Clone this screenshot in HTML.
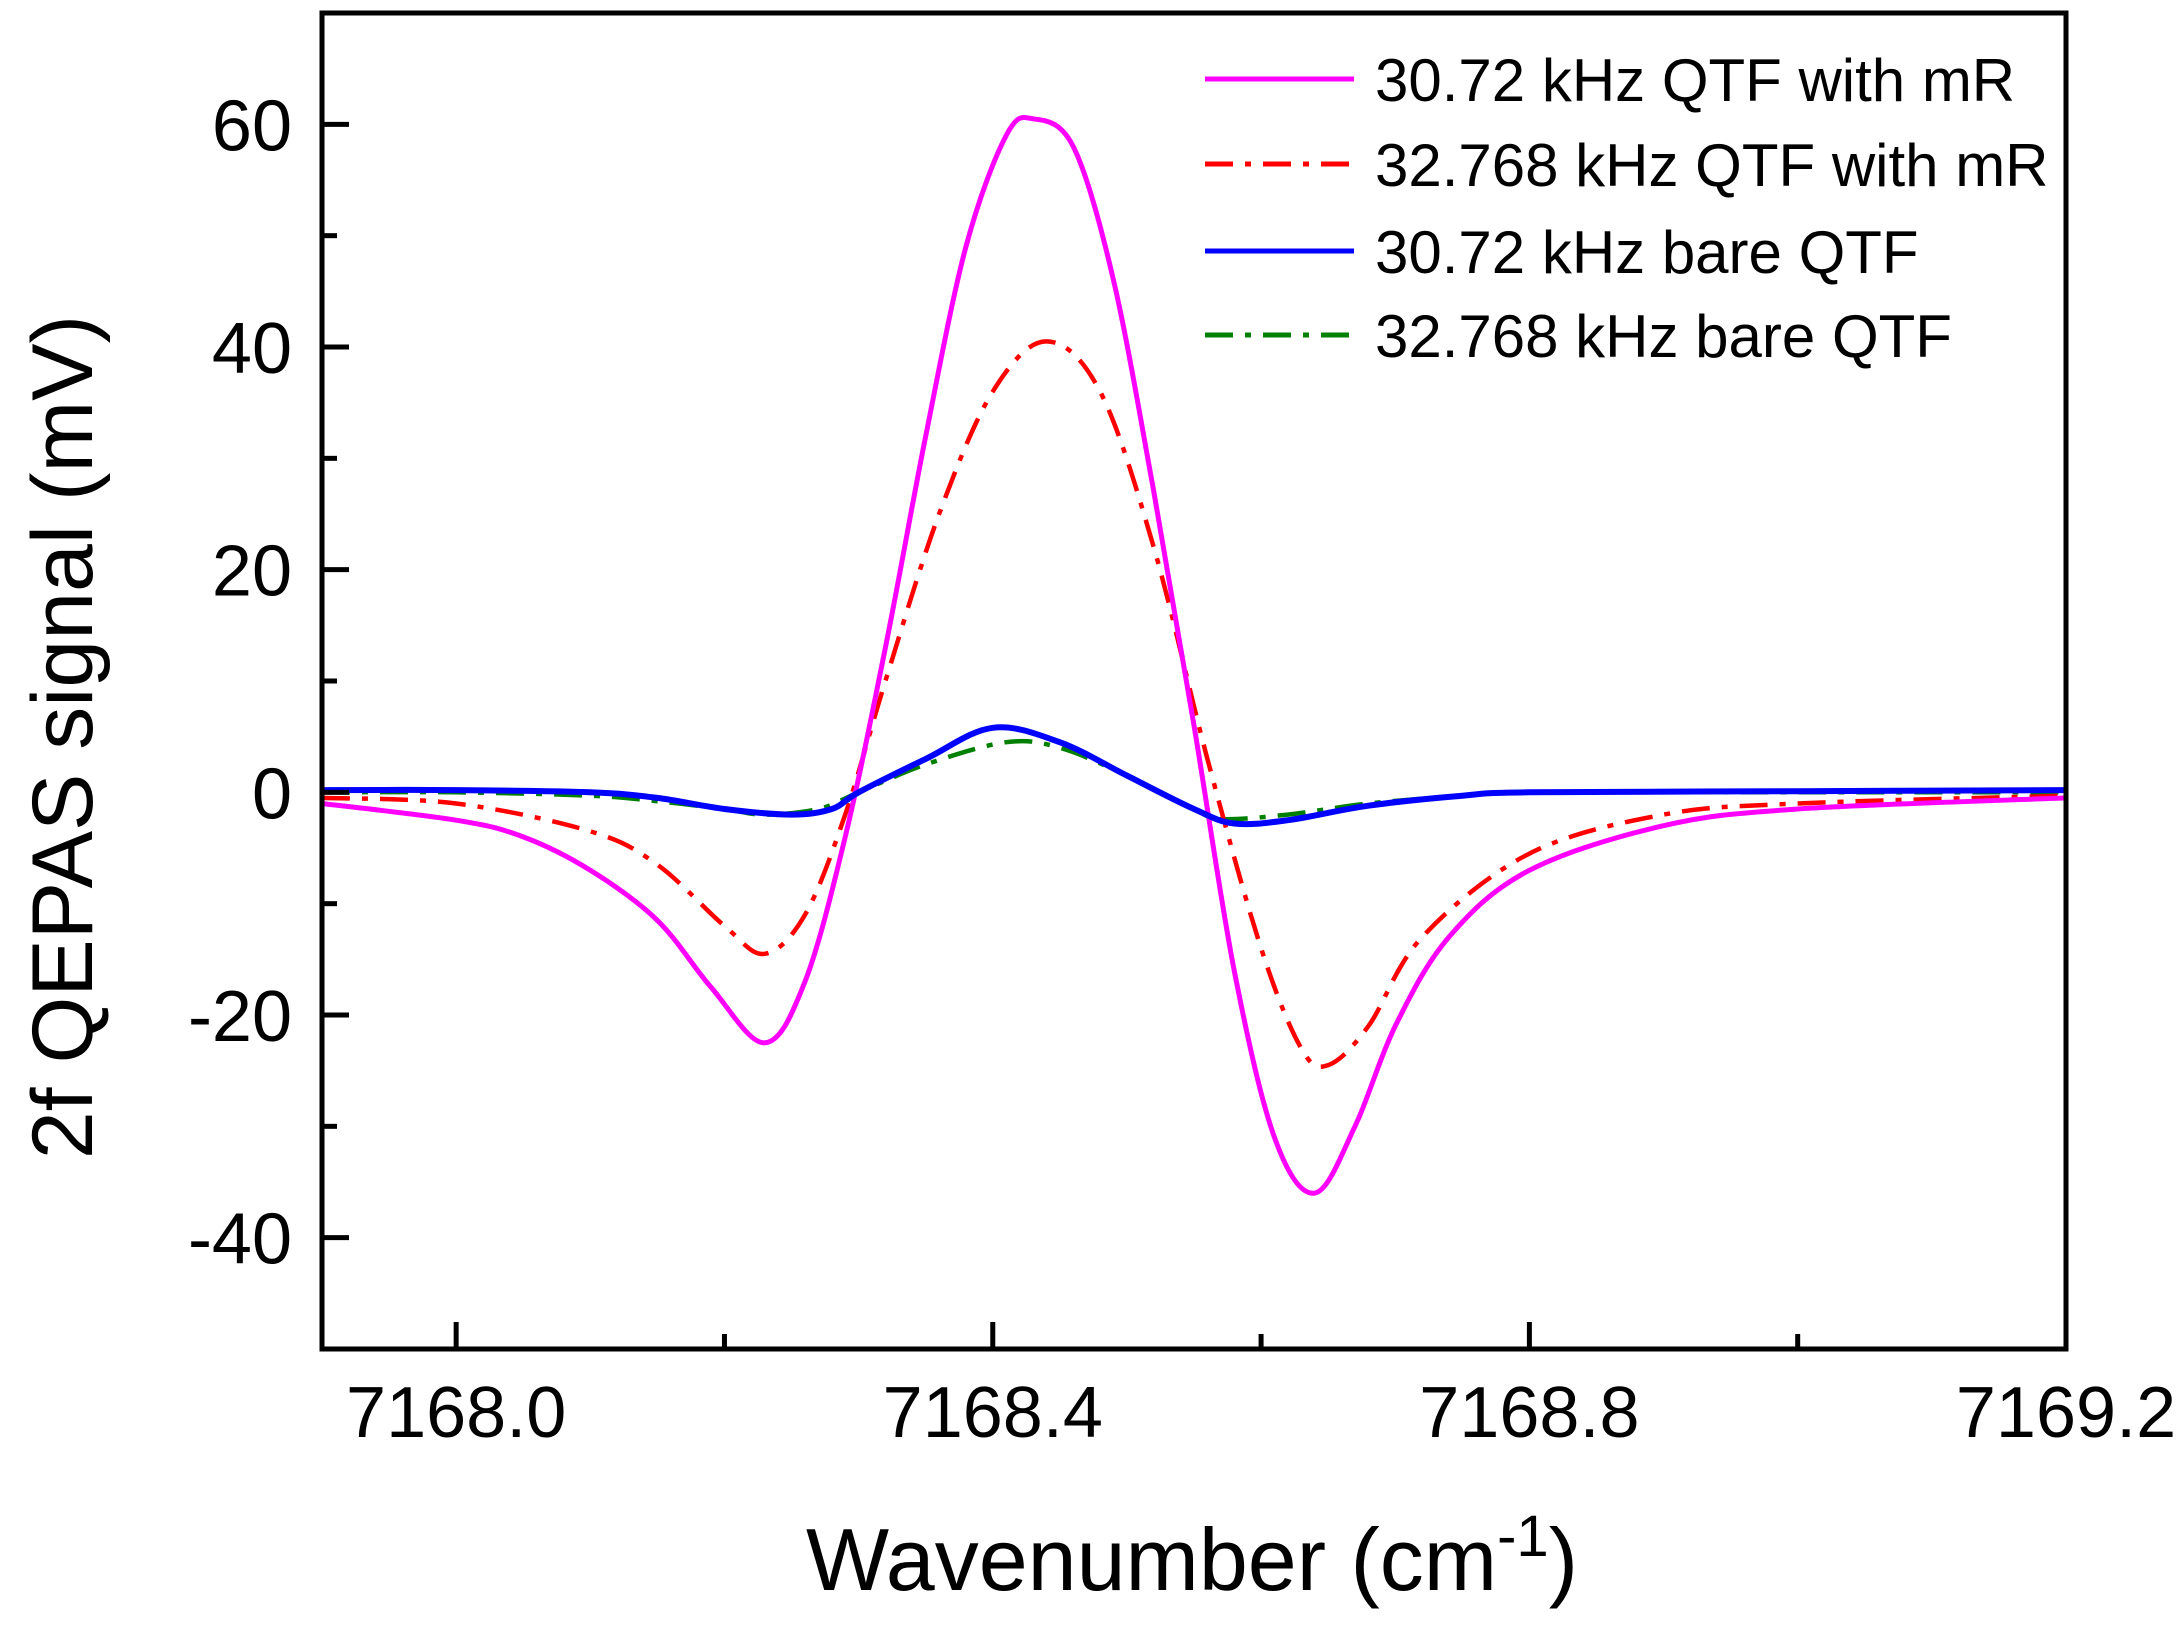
<!DOCTYPE html>
<html><head><meta charset="utf-8"><style>
html,body{margin:0;padding:0;background:#fff;}
svg{display:block;font-family:"Liberation Sans",Arial,sans-serif;}
</style></head><body>
<svg id="chart" width="2183" height="1634" viewBox="0 0 2183 1634" xmlns="http://www.w3.org/2000/svg">
<rect width="2183" height="1634" fill="#fff"/>
<defs><clipPath id="plotclip"><rect x="322" y="13" width="1744" height="1336"/></clipPath></defs>
<g id="series" clip-path="url(#plotclip)"></g>
<g id="axes"></g>
<text x="1192" y="1590" font-size="88" text-anchor="middle" fill="#000">Wavenumber (cm<tspan font-size="58" dy="-34">-1</tspan><tspan dy="34">)</tspan></text>
<text transform="translate(92,737) rotate(-90)" font-size="86" text-anchor="middle" fill="#000">2f QEPAS signal (mV)</text>
<g id="legend"></g>
</svg>
<script>
const xMin=7167.9, xMax=7169.2, yMin=-50, yMax=70;
const xTicks=[7168.0,7168.4,7168.8,7169.2];
const xTickLabels=["7168.0","7168.4","7168.8","7169.2"];
const yTicks=[-40,-20,0,20,40,60];
const yTickLabels=["-40","-20","0","20","40","60"];
const seriesNames=["30.72 kHz QTF with mR","32.768 kHz QTF with mR","30.72 kHz bare QTF","32.768 kHz bare QTF"];
const magentaX=[7167.9,7168.0,7168.05,7168.1,7168.15,7168.19,7168.23,7168.26,7168.29,7168.32,7168.35,7168.38,7168.41,7168.43,7168.46,7168.49,7168.52,7168.55,7168.58,7168.61,7168.64,7168.67,7168.7,7168.74,7168.8,7168.9,7169.0,7169.2];
const magentaY=[-1,-2.5,-4,-7,-11.5,-17.5,-22.5,-17,-4,13,32,49,59,60.5,58,46,27,6,-16,-31,-36,-30,-21,-13,-7,-3,-1.5,-0.5];
const redX=[7167.9,7168.0,7168.1,7168.15,7168.2,7168.23,7168.26,7168.29,7168.32,7168.36,7168.4,7168.44,7168.48,7168.52,7168.56,7168.6,7168.63,7168.65,7168.68,7168.72,7168.8,7168.9,7169.0,7169.2];
const redY=[-0.5,-1,-3.5,-6.5,-12,-14.5,-11,-2,10,25,36,40.5,36,22,3,-14,-23,-24.5,-21,-13,-5.5,-2,-1,-0.3];
const blueX=[7167.9,7168.0,7168.1,7168.15,7168.2,7168.25,7168.28,7168.3,7168.35,7168.4,7168.45,7168.5,7168.55,7168.58,7168.62,7168.68,7168.75,7168.8,7169.0,7169.2];
const blueY=[0.2,0.2,0,-0.5,-1.5,-2,-1.5,0,3,5.8,4.5,1.5,-1.5,-2.8,-2.5,-1.2,-0.3,0,0.1,0.2];
const greenX=[7167.9,7168.0,7168.1,7168.15,7168.2,7168.23,7168.27,7168.3,7168.35,7168.41,7168.45,7168.5,7168.55,7168.57,7168.62,7168.68,7168.75,7168.8,7169.0,7169.2];
const greenY=[0,0,-0.3,-0.8,-1.5,-2,-1.5,0,2.5,4.5,4,1.5,-1.5,-2.4,-2,-1,-0.3,0,0,0];
const L=322,R=2066,T=13,B=1349;
const xs=v=>L+(v-xMin)/(xMax-xMin)*(R-L);
const ys=v=>B-(v-yMin)/(yMax-yMin)*(B-T);
const NS="http://www.w3.org/2000/svg";
function mk(tag,attrs,parent){const e=document.createElementNS(NS,tag);for(const k in attrs)e.setAttribute(k,attrs[k]);parent.appendChild(e);return e;}
function smooth(X,Y){const p=X.map((x,i)=>[xs(x),ys(Y[i])]);let d="M"+p[0][0].toFixed(1)+","+p[0][1].toFixed(1);
for(let i=0;i<p.length-1;i++){const p0=p[i-1]||p[i],p1=p[i],p2=p[i+1],p3=p[i+2]||p2;
const c1=[p1[0]+(p2[0]-p0[0])/6,p1[1]+(p2[1]-p0[1])/6],c2=[p2[0]-(p3[0]-p1[0])/6,p2[1]-(p3[1]-p1[1])/6];
d+=" C"+c1.map(v=>v.toFixed(1))+" "+c2.map(v=>v.toFixed(1))+" "+p2[0].toFixed(1)+","+p2[1].toFixed(1);}return d;}
const sg=document.getElementById('series');
const styles=[{c:"#ff00ff",w:5,da:""},{c:"#ff0000",w:4.5,da:"28 12 6 12"},{c:"#0000ff",w:6,da:""},{c:"#008000",w:4.5,da:"28 12 6 12"}];
const data=[[greenX,greenY,3],[redX,redY,1],[magentaX,magentaY,0],[blueX,blueY,2]];
const snames=["series-32768-bare","series-32768-mr","series-3072-mr","series-3072-bare"];
data.forEach((s,i)=>{const st=styles[s[2]];
const p=mk('path',{d:smooth(s[0],s[1]),fill:"none",stroke:st.c,"stroke-width":st.w,"stroke-dasharray":st.da,"stroke-linejoin":"round"},sg);

});
const ax=document.getElementById('axes');
const fr=mk('rect',{x:L,y:T,width:R-L,height:B-T,fill:"none",stroke:"#000","stroke-width":5},ax);


xTicks.forEach((v,i)=>{const x=xs(v);
mk('line',{x1:x,y1:B,x2:x,y2:B-27,stroke:"#000","stroke-width":5},ax);
const t=mk('text',{x:x,y:1437,"font-size":72,"text-anchor":"middle",fill:"#000"},ax);t.textContent=xTickLabels[i];


if(i<xTicks.length-1){const xm=xs(v+0.2);mk('line',{x1:xm,y1:B,x2:xm,y2:B-15,stroke:"#000","stroke-width":5},ax);}});
yTicks.forEach((v,i)=>{const y=ys(v);
mk('line',{x1:L,y1:y,x2:L+27,y2:y,stroke:"#000","stroke-width":5},ax);
const t=mk('text',{x:292,y:y+26,"font-size":72,"text-anchor":"end",fill:"#000"},ax);t.textContent=yTickLabels[i];

});
for(let v=-50;v<=70;v+=20){mk('line',{x1:L,y1:ys(v),x2:L+15,y2:ys(v),stroke:"#000","stroke-width":5},ax);}
const lg=document.getElementById('legend');
const rowsY=[79,164,251,335];
seriesNames.forEach((n,i)=>{const st=styles[i];
const g=mk('g',{},lg);


mk('line',{x1:1205,y1:rowsY[i],x2:1354,y2:rowsY[i],stroke:st.c,"stroke-width":5,"stroke-dasharray":st.da},g);
const t=mk('text',{x:1375,y:rowsY[i]+22,"font-size":60,fill:"#000"},g);t.textContent=n;});
</script>
</body></html>
